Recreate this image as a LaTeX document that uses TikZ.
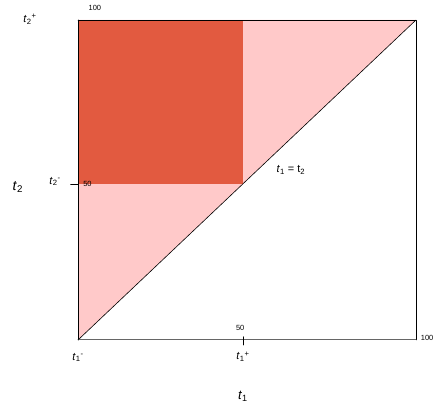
\documentclass[tikz,border=0pt]{standalone}
\usepackage{fontspec}
\setmainfont{Liberation Sans}
\definecolor{boxred}{RGB}{226,90,64}
\definecolor{zonepink}{RGB}{255,201,201}
\newcommand{\tvar}[2]{\textit{t}\textsubscript{#1}\textsuperscript{#2}}
\tikzset{
  tlabel/.style={font=\fontsize{11}{13}\selectfont},
  numlabel/.style={font=\fontsize{7.5}{9}\selectfont},
  axislabel/.style={font=\fontsize{14}{16}\selectfont}
}
\begin{document}
\begin{tikzpicture}[x=3.38bp,y=3.2bp,line cap=round,line join=round,every node/.style={inner sep=1pt}]
  % Region where t2 > t1, the red box and the unit frame.
  \useasboundingbox (-23.08,-19.69) rectangle (105.33,106.25);
  \def\midv{48.8}
  \coordinate (O) at (0,0);
  \coordinate (X) at (100,0);
  \coordinate (Y) at (0,100);
  \coordinate (T) at (100,100);
  \coordinate (M) at (\midv,\midv);
  \fill[zonepink] (O)--(T)--(Y)--cycle;
  \fill[boxred] (0,\midv) rectangle (\midv,100);
  \draw[line width=.5pt] (Y)--(T)--(X);
  \draw[line width=.7pt] (O)--(Y);
  \draw[line width=1pt,black!60] (O)--(X);
  \draw[line width=.6pt] (O)--(T);
  \draw[line width=.6pt] (-2.2,\midv)--(0,\midv);
  \draw[line width=.6pt] (\midv,1)--(\midv,-1.6);
  \node[numlabel] (ytop) at (5,103.75) {100};
  \node[tlabel] (t2p) at (-14.2,100.3) {\tvar{2}{+}};
  \node[tlabel] (t2m) at (-6.8,49.5) {\tvar{2}{-}};
  \node[numlabel,anchor=west] (ymid) at (1.2,\midv) {50};
  \node[axislabel] (t2) at (-17.8,47.8) {\textit{t}\textsubscript{2}};
  \node[tlabel] (t1m) at (0,-5.5) {\tvar{1}{-}};
  \node[numlabel] (xmid) at (48,3.9) {50};
  \node[tlabel] (t1p) at (\midv,-5.2) {\tvar{1}{+}};
  \node[axislabel,font=\fontsize{13}{15}\selectfont] (t1) at (\midv,-17.5) {\textit{t}\textsubscript{1}};
  \node[numlabel] (xend) at (103.3,0.6) {100};
  \node[tlabel] (diag) at (63,53.1) {\textit{t}\textsubscript{1} = t\textsubscript{2}};
\end{tikzpicture}
\end{document}
